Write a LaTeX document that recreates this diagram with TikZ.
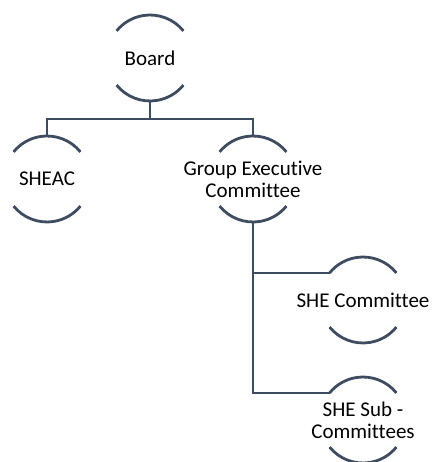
\documentclass[tikz,border=0pt]{standalone}
\usepackage{fontspec}
\setmainfont{Carlito}[Ligatures=NoCommon]

\definecolor{linkgray}{HTML}{3E4C60}

\tikzset{
    member/.style={circle, minimum size=86pt, inner sep=0pt, outer sep=0pt},
    rim/.style={draw=linkgray, line width=2.8pt},
    link/.style={draw=linkgray, line width=2.8pt},
    tag/.style={align=center, font=\fontsize{21}{22}\selectfont, text=black}
}

\newcommand{\rims}[1]{%
    \draw[rim] (#1.39) arc[start angle=39, end angle=141, radius=43pt];
    \draw[rim] (#1.219) arc[start angle=219, end angle=321, radius=43pt];
}

\begin{document}
\begin{tikzpicture}[x=1pt, y=1pt]
                \useasboundingbox (0, 0) rectangle (433, 462);

                \node[member, label={[tag]center:Board}] (board) at (150, 404) {};

                \node[member, label={[tag]center:SHEAC}] (sheac) at (47, 283) {};

                \node[member, label={[tag]center:Group Executive\\Committee}] (gec) at (253, 283) {};

                \node[member, label={[tag]center:SHE Committee}] (shec) at (363, 162) {};

                \node[member, label={[tag]center:SHE Sub -\\Committees}] (shes) at (363, 42) {};

                \rims{board}
                \rims{sheac}
                \rims{gec}
                \rims{shec}
                \rims{shes}

                \coordinate (fork) at ([yshift=-18pt]board.south);

                \draw[link] (board.south) -- (fork);

                \draw[link] (fork) -| (sheac.north);

                \draw[link] (fork) -| (gec.north);

                \draw[link] (gec.south) |- (shec.141);

                \draw[link] (gec.south) |- (shes.141);
\end{tikzpicture}
\end{document}
